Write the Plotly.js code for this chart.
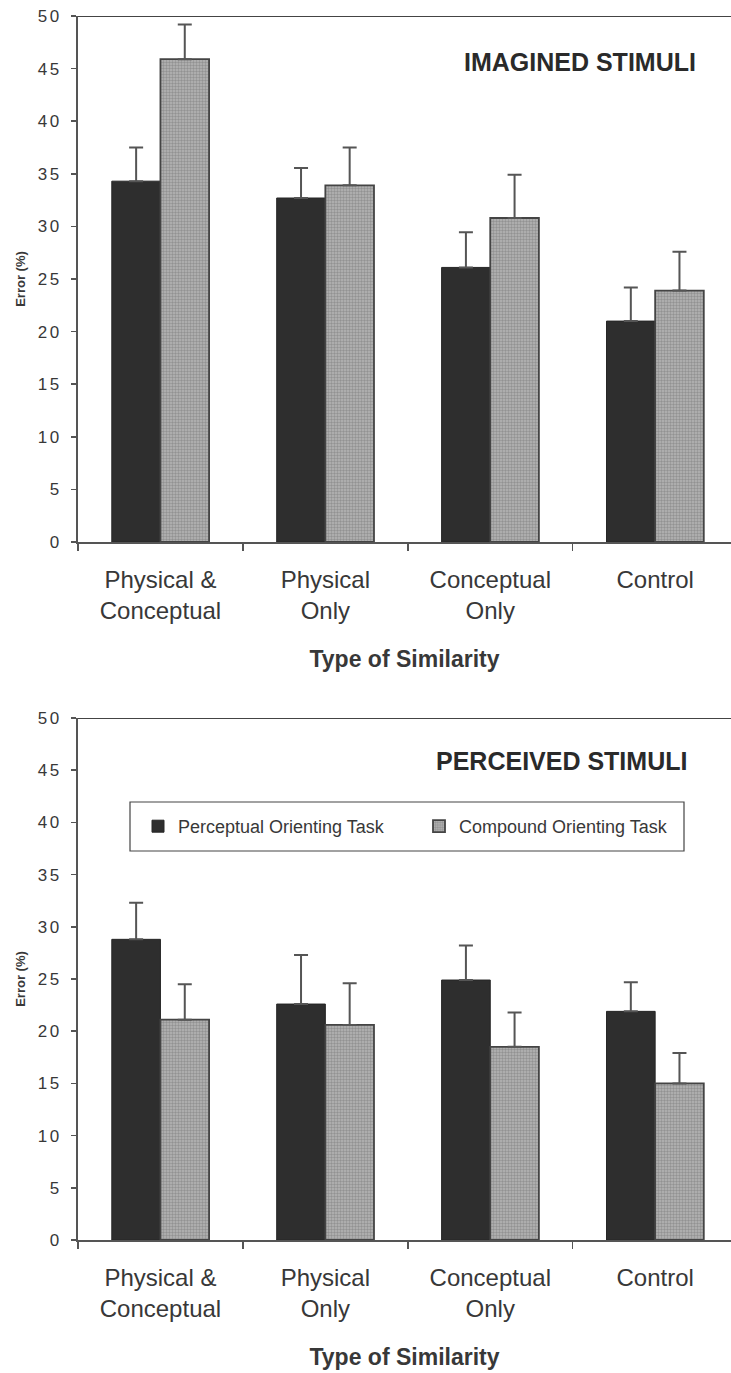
<!DOCTYPE html>
<html>
<head>
<meta charset="utf-8">
<script src="https://cdn.plot.ly/plotly-3.0.1.min.js"></script>
<style>
html,body{margin:0;padding:0;background:#fff;overflow:hidden;}
#chart{width:731px;height:1373px;}
g.yaxislayer-above text{letter-spacing:2.5px;}
</style>
</head>
<body>
<div id="chart"></div>
<script>
// ---- data ----
const categories = ["Physical &<br>Conceptual", "Physical<br>Only", "Conceptual<br>Only", "Control"];
const seriesNames = ["Perceptual Orienting Task", "Compound Orienting Task"];

// Imagined stimuli (top panel)
const imaginedPerceptual = [34.3, 32.7, 26.1, 21.0];
const imaginedPerceptualErr = [3.2, 2.85, 3.35, 3.2];
const imaginedCompound = [45.9, 33.9, 30.8, 23.9];
const imaginedCompoundErr = [3.3, 3.6, 4.1, 3.7];

// Perceived stimuli (bottom panel)
const perceivedPerceptual = [28.8, 22.6, 24.9, 21.9];
const perceivedPerceptualErr = [3.5, 4.7, 3.3, 2.8];
const perceivedCompound = [21.1, 20.6, 18.5, 15.0];
const perceivedCompoundErr = [3.4, 4.0, 3.3, 2.9];

const panelTitles = ["IMAGINED STIMULI", "PERCEIVED STIMULI"];
const yTitle = "Error (%)";
const xTitle = "Type of Similarity";

// ---- styles ----
const FONT = "Liberation Sans, Arial, Helvetica, sans-serif";
const TXT = "#383838";
const AX = "#555";
const darkColor = "#2e2e2e";
const lightColor = "#b6b6b6";

function errBar(arr) {
  return {type: "data", array: arr, arrayminus: arr.map(() => 0), symmetric: false,
          color: "#555", thickness: 2, width: 7};
}
function darkTrace(vals, errs, xa, ya, show) {
  return {type: "bar", name: seriesNames[0], legendgroup: "p", showlegend: show,
    x: categories, y: vals, xaxis: xa, yaxis: ya,
    marker: {color: darkColor, line: {color: "#262626", width: 1}},
    error_y: errBar(errs), hoverinfo: "y"};
}
function lightTrace(vals, errs, xa, ya, show) {
  return {type: "bar", name: seriesNames[1], legendgroup: "c", showlegend: show,
    x: categories, y: vals, xaxis: xa, yaxis: ya,
    marker: {color: lightColor, line: {color: "#444", width: 1.8},
      pattern: {shape: ".", bgcolor: lightColor, fgcolor: "#929292", size: 3, solidity: 0.5}},
    error_y: errBar(errs), hoverinfo: "y"};
}

const traces = [
  darkTrace(imaginedPerceptual, imaginedPerceptualErr, "x", "y", false),
  lightTrace(imaginedCompound, imaginedCompoundErr, "x", "y", false),
  darkTrace(perceivedPerceptual, perceivedPerceptualErr, "x2", "y2", true),
  lightTrace(perceivedCompound, perceivedCompoundErr, "x2", "y2", true)
];

// geometry (pixels in a 731 x 1373 page)
const W = 731, H = 1373;
const mL = 78, mT = 16, mB = 133;
const plotH = H - mT - mB;
const topBottomPx = 542;    // y=0 of top panel
const botTopPx = 718;       // y=50 of bottom panel
const topDomain = [(H - mB - topBottomPx) / plotH, 1];
const botDomain = [0, (H - mB - botTopPx) / plotH];
const px2xp = p => (p - mL) / (W - mL);
const py2yp = p => (H - mB - p) / plotH;

function xAxis(anchor) {
  return {anchor: anchor, domain: [0, 1], range: [-0.5, 3.46], type: "category",
    showline: true, linecolor: AX, linewidth: 2, showgrid: false, zeroline: false,
    ticks: "outside", tickson: "boundaries", ticklen: 7, tickcolor: AX, tickwidth: 1.5,
    ticklabelstandoff: 15,
    tickfont: {family: FONT, size: 24, color: TXT},
    title: {text: "<b>" + xTitle + "</b>", font: {family: FONT, size: 23, color: TXT}, standoff: 28},
    fixedrange: true};
}
function yAxis(anchor, domain) {
  return {anchor: anchor, domain: domain, range: [0, 50], dtick: 5, tick0: 0,
    showline: true, linecolor: AX, linewidth: 2, showgrid: false, zeroline: false,
    ticks: "outside", ticklen: 5, tickcolor: AX, tickwidth: 1.5,
    ticklabelstandoff: 6,
    tickfont: {family: FONT, size: 17, color: TXT},
    title: {text: "<b>" + yTitle + "</b>", font: {family: FONT, size: 13, color: TXT}, standoff: 14},
    fixedrange: true};
}

const layout = {
  width: W, height: H,
  margin: {l: mL, r: 0, t: mT, b: mB, pad: 0},
  paper_bgcolor: "#fff", plot_bgcolor: "#fff",
  font: {family: FONT, color: TXT},
  barmode: "group", bargap: 0.41, bargroupgap: 0,
  xaxis: xAxis("y"), yaxis: yAxis("x", topDomain),
  xaxis2: xAxis("y2"), yaxis2: yAxis("x2", botDomain),
  showlegend: true,
  legend: {orientation: "h", x: px2xp(138), y: py2yp(826.5), xanchor: "left", yanchor: "middle",
    bgcolor: "rgba(0,0,0,0)", borderwidth: 0, entrywidth: 236, itemwidth: 30,
    font: {family: FONT, size: 18, color: TXT}, traceorder: "normal"},
  shapes: [
    {type: "line", xref: "paper", yref: "y", x0: 0, x1: 1, y0: 50, y1: 50, line: {color: "#444", width: 2}},
    {type: "line", xref: "paper", yref: "y2", x0: 0, x1: 1, y0: 50, y1: 50, line: {color: "#444", width: 2}},
    {type: "rect", xref: "paper", yref: "paper", x0: px2xp(130), x1: px2xp(684), y0: py2yp(851), y1: py2yp(802),
      line: {color: "#444", width: 1.2}, fillcolor: "#fff", layer: "below"}
  ],
  annotations: [
    {xref: "paper", yref: "y", x: px2xp(580), y: 45.6, text: "<b>" + panelTitles[0] + "</b>", showarrow: false,
      xanchor: "center", yanchor: "middle", font: {family: FONT, size: 25, color: "#2a2a2a"}},
    {xref: "paper", yref: "y2", x: px2xp(561), y: 45.9, text: "<b>" + panelTitles[1] + "</b>", showarrow: false,
      xanchor: "center", yanchor: "middle", font: {family: FONT, size: 25, color: "#2a2a2a"}}
  ]
};

Plotly.newPlot("chart", traces, layout, {displayModeBar: false, staticPlot: true});
</script>
</body>
</html>
